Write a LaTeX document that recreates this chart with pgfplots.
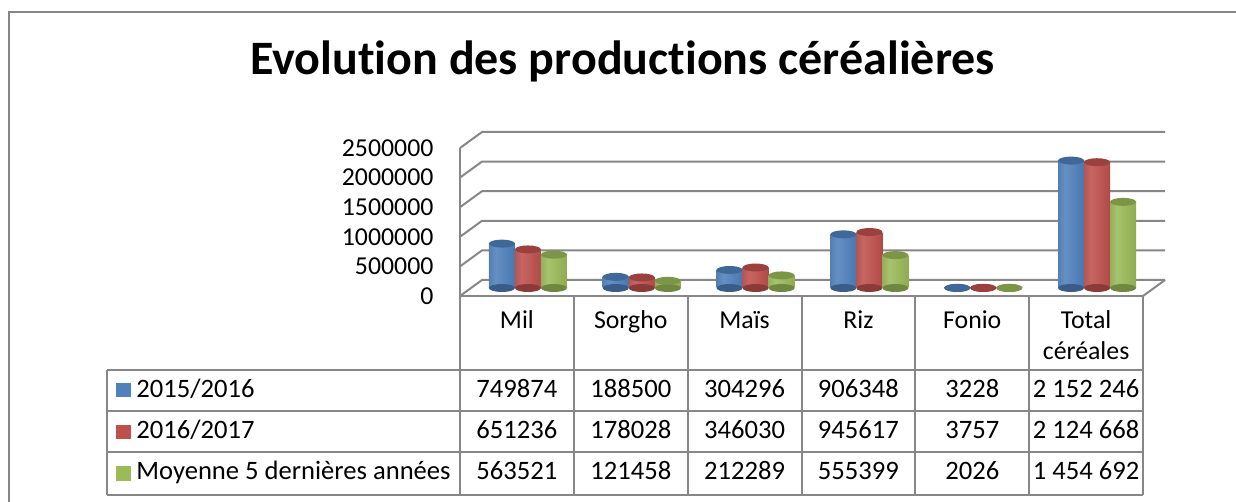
\documentclass[border=0pt]{standalone}
\usepackage{pgfplots}
\pgfplotsset{compat=1.18}
\usepackage{pgfplotstable}
\usepackage{fontspec}
\setmainfont{Carlito}[Ligatures=NoCommon]

\definecolor{cB}{HTML}{4F81BD}
\definecolor{cR}{HTML}{C0504D}
\definecolor{cG}{HTML}{9BBB59}
\definecolor{gridc}{HTML}{878787}

\pgfdeclarehorizontalshading{cylB}{100bp}{color(0bp)=(cB!72!black); color(38bp)=(cB!88!white); color(75bp)=(cB!92!black); color(100bp)=(cB!62!black)}
\pgfdeclarehorizontalshading{cylR}{100bp}{color(0bp)=(cR!72!black); color(38bp)=(cR!88!white); color(75bp)=(cR!92!black); color(100bp)=(cR!62!black)}
\pgfdeclarehorizontalshading{cylG}{100bp}{color(0bp)=(cG!72!black); color(38bp)=(cG!88!white); color(75bp)=(cG!92!black); color(100bp)=(cG!62!black)}

\pgfplotstableread{
cat s1 s2 s3
0 749874 651236 563521
1 188500 178028 121458
2 304296 346030 212289
3 906348 945617 555399
4 3228 3757 2026
5 2152246 2124668 1454692
}\data

\pgfdeclareplotmark{cyl}{\pgfpathellipse{\pgfpointorigin}{\pgfpoint{6.5pt}{0pt}}{\pgfpoint{0pt}{2pt}}\pgfusepathqfill}

\begin{document}
\begin{tikzpicture}[x=0.5pt,y=0.5pt]
\useasboundingbox (0,0) rectangle (1236,502);
\fill[white] (0,0) rectangle (1236,502);
% outer frame
\draw[gridc, line width=0.7pt] (9,0) -- (9,490) -- (1236,490);
% title
\node[anchor=base, inner sep=0pt, font=\fontsize{24}{28}\selectfont\bfseries] at (622.5,427) {Evolution des productions céréalières};

% 3D walls
\foreach \k in {0,...,5} {
  \pgfmathsetmacro\yf{206+29.6*\k}
  \draw[gridc, line width=1pt] (460,\yf) -- (482,\yf+16) -- (1165,\yf+16);
}
\draw[gridc, line width=1pt] (1143,206) -- (1165,222);

% front axis with tick labels and header
\begin{axis}[at={(230pt,103pt)}, anchor=south west, scale only axis,
  width=341.5pt, height=74pt, xmin=-0.5, xmax=5.5, ymin=0, ymax=2500000,
  axis x line*=bottom, axis y line*=left,
  axis line style={gridc, line width=1pt},
  scaled y ticks=false,
  xtick={0,...,5}, ytick={0,500000,1000000,1500000,2000000,2500000},
  yticklabels={0,500000,1000000,1500000,2000000,2500000},
  xticklabels={\strut Mil,\strut Sorgho,\strut Maïs,\strut Riz,\strut Fonio,\strut Total\\céréales},
  tick style={draw=none},
  tick label style={font=\fontsize{12.9}{15.5}\selectfont},
  yticklabel style={xshift=-9.75pt},
  xticklabel style={anchor=north, align=center, yshift=-2pt},
  clip=false]
\end{axis}

% bars axis (depth offset)
\begin{axis}[at={(235.5pt,107pt)}, anchor=south west, scale only axis,
  width=341.5pt, height=74pt, xmin=-0.5, xmax=5.5, ymin=0, ymax=2500000,
  hide axis, clip=false]
% bottoms
\addplot[only marks, mark=cyl, mark options={fill=cB!72!black}] table[x expr=\coordindex-0.2285, y expr=0]{\data};
\addplot[only marks, mark=cyl, mark options={fill=cR!72!black}] table[x expr=\coordindex, y expr=0]{\data};
\addplot[only marks, mark=cyl, mark options={fill=cG!72!black}] table[x expr=\coordindex+0.2285, y expr=0]{\data};
% bodies, one bar per plot so that each cylinder gets its own shading
\pgfplotsinvokeforeach{0,...,5}{
\addplot[ybar, bar width=13pt, bar shift=0pt, draw=none, shading=cylB, restrict expr to domain={\coordindex}{#1:#1}] table[x expr=\coordindex-0.2285, y=s1]{\data};
\addplot[ybar, bar width=13pt, bar shift=0pt, draw=none, shading=cylR, restrict expr to domain={\coordindex}{#1:#1}] table[x expr=\coordindex, y=s2]{\data};
\addplot[ybar, bar width=13pt, bar shift=0pt, draw=none, shading=cylG, restrict expr to domain={\coordindex}{#1:#1}] table[x expr=\coordindex+0.2285, y=s3]{\data};
}
% tops
\addplot[only marks, mark=cyl, mark options={fill=cB!80!black}] table[x expr=\coordindex-0.2285, y=s1]{\data};
\addplot[only marks, mark=cyl, mark options={fill=cR!80!black}] table[x expr=\coordindex, y=s2]{\data};
\addplot[only marks, mark=cyl, mark options={fill=cG!80!black}] table[x expr=\coordindex+0.2285, y=s3]{\data};
\end{axis}

% data table lines
\foreach \xx in {460,573.8,687.7,801.5,915.3,1029.2,1143} {
  \draw[gridc, line width=1pt] (\xx,206) -- (\xx,7);
}
\draw[gridc, line width=1pt] (107,132) -- (107,7);
\foreach \yy in {132,91,50,7} {
  \draw[gridc, line width=1pt] (107,\yy) -- (1143,\yy);
}
% legend keys
\fill[cB] (116,105) rectangle (131,119);
\fill[cR] (116,63) rectangle (131,77);
\fill[cG] (116,21) rectangle (131,36);

\begin{scope}[every node/.style={font=\fontsize{13.3}{15.5}\selectfont, inner sep=0pt}]
\node[anchor=base west] at (136,104) {2015/2016};
\node[anchor=base west] at (136,63) {2016/2017};
\node[anchor=base west] at (136,22) {Moyenne 5 dernières années};
% row 1
\node[anchor=base] at (516.9,104) {749874};
\node[anchor=base] at (630.8,104) {188500};
\node[anchor=base] at (744.6,104) {304296};
\node[anchor=base] at (858.4,104) {906348};
\node[anchor=base] at (972.3,104) {3228};
\node[anchor=base] at (1086.1,104) {2 152 246};
% row 2
\node[anchor=base] at (516.9,63) {651236};
\node[anchor=base] at (630.8,63) {178028};
\node[anchor=base] at (744.6,63) {346030};
\node[anchor=base] at (858.4,63) {945617};
\node[anchor=base] at (972.3,63) {3757};
\node[anchor=base] at (1086.1,63) {2 124 668};
% row 3
\node[anchor=base] at (516.9,22) {563521};
\node[anchor=base] at (630.8,22) {121458};
\node[anchor=base] at (744.6,22) {212289};
\node[anchor=base] at (858.4,22) {555399};
\node[anchor=base] at (972.3,22) {2026};
\node[anchor=base] at (1086.1,22) {1 454 692};
\end{scope}
\end{tikzpicture}
\end{document}
